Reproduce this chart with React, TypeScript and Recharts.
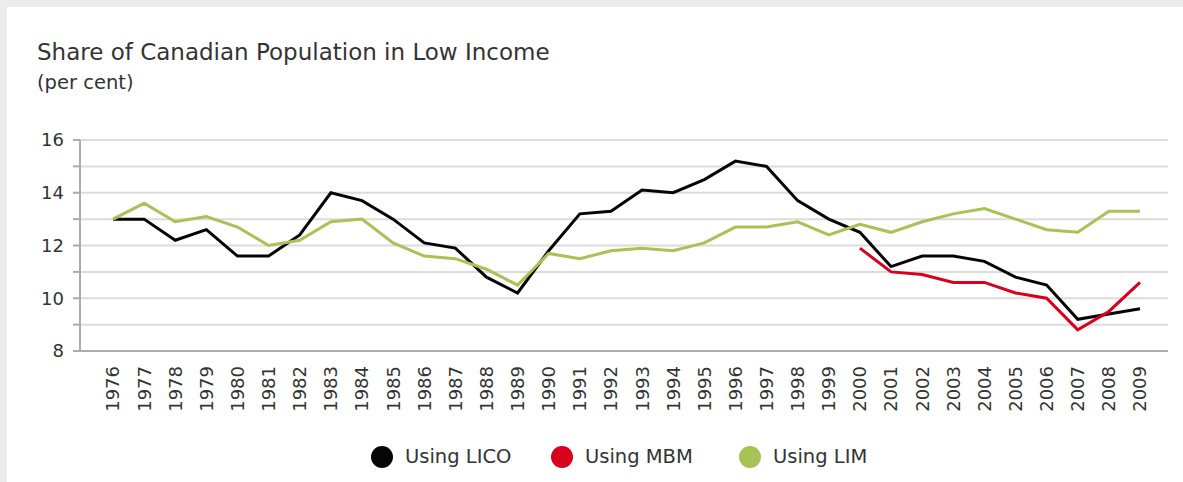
import { LineChart, Line, XAxis, YAxis, CartesianGrid } from 'recharts';

const years = [
  '1976', '1977', '1978', '1979', '1980', '1981', '1982', '1983', '1984', '1985',
  '1986', '1987', '1988', '1989', '1990', '1991', '1992', '1993', '1994', '1995',
  '1996', '1997', '1998', '1999', '2000', '2001', '2002', '2003', '2004', '2005',
  '2006', '2007', '2008', '2009',
];

const lico = [
  13.0, 13.0, 12.2, 12.6, 11.6, 11.6, 12.4, 14.0, 13.7, 13.0,
  12.1, 11.9, 10.8, 10.2, 11.8, 13.2, 13.3, 14.1, 14.0, 14.5,
  15.2, 15.0, 13.7, 13.0, 12.5, 11.2, 11.6, 11.6, 11.4, 10.8,
  10.5, 9.2, 9.4, 9.6,
];

// MBM only starts in 2000
const mbm = [
  null, null, null, null, null, null, null, null, null, null,
  null, null, null, null, null, null, null, null, null, null,
  null, null, null, null, 11.9, 11.0, 10.9, 10.6, 10.6, 10.2,
  10.0, 8.8, 9.5, 10.6,
];

const lim = [
  13.0, 13.6, 12.9, 13.1, 12.7, 12.0, 12.2, 12.9, 13.0, 12.1,
  11.6, 11.5, 11.1, 10.5, 11.7, 11.5, 11.8, 11.9, 11.8, 12.1,
  12.7, 12.7, 12.9, 12.4, 12.8, 12.5, 12.9, 13.2, 13.4, 13.0,
  12.6, 12.5, 13.3, 13.3,
];

const yTicks = [8, 9, 10, 11, 12, 13, 14, 15, 16];

const series = [
  { key: 'lico', name: 'Using LICO', color: '#050505', legendLeft: 364 },
  { key: 'mbm', name: 'Using MBM', color: '#d8001c', legendLeft: 544 },
  { key: 'lim', name: 'Using LIM', color: '#a8c256', legendLeft: 732 },
];

const data = years.map((year, i) => ({
  year,
  lico: lico[i],
  mbm: mbm[i],
  lim: lim[i],
}));

const FONT = '"DejaVu Sans", Verdana, sans-serif';

const YearTick = ({ x, y, payload }: any) => (
  <text
    x={x}
    y={y + 7}
    transform={`rotate(-90, ${x}, ${y + 7})`}
    textAnchor="end"
    dy="0.36em"
    fill="#333"
    fontSize={18}
    fontFamily={FONT}
  >
    {payload?.value}
  </text>
);

export default function App() {
  return (
    <div
      style={{
        position: 'absolute',
        left: 0,
        top: 0,
        width: 1183,
        height: 482,
        background: '#ebebeb',
        fontFamily: FONT,
        overflow: 'hidden',
      }}
    >
      <div
        style={{
          position: 'absolute',
          left: 7,
          top: 7,
          width: 1176,
          height: 475,
          background: '#fff',
        }}
      >
        <div
          style={{
            position: 'absolute',
            left: 30,
            top: 34,
            fontSize: 23,
            lineHeight: '23px',
            color: '#333',
            whiteSpace: 'nowrap',
          }}
        >
          Share of Canadian Population in Low Income
        </div>
        <div
          style={{
            position: 'absolute',
            left: 30,
            top: 66,
            fontSize: 19.5,
            lineHeight: '20px',
            color: '#333',
            whiteSpace: 'nowrap',
          }}
        >
          (per cent)
        </div>

        <LineChart
          width={1176}
          height={475}
          data={data}
          margin={{ top: 133, right: 15, left: 0, bottom: 71 }}
        >
          <CartesianGrid vertical={false} stroke="#dcdcdc" strokeWidth={2} />
          <XAxis
            dataKey="year"
            interval={0}
            height={60}
            padding={{ left: 33, right: 28 }}
            tickLine={false}
            axisLine={{ stroke: '#ababab', strokeWidth: 2 }}
            tick={<YearTick />}
          />
          <YAxis
            width={73}
            domain={[8, 16]}
            ticks={yTicks}
            interval={0}
            tickSize={7}
            tickMargin={9}
            tickFormatter={(v: number) => (v % 2 === 0 ? String(v) : '')}
            tick={{ fill: '#333', fontSize: 18, fontFamily: FONT }}
            tickLine={{ stroke: '#ababab', strokeWidth: 2 }}
            axisLine={{ stroke: '#ababab', strokeWidth: 2 }}
          />
          {series.map((s) => (
            <Line
              key={s.key}
              type="linear"
              dataKey={s.key}
              name={s.name}
              stroke={s.color}
              strokeWidth={3}
              dot={false}
              activeDot={false}
              isAnimationActive={false}
            />
          ))}
        </LineChart>

        {/* legend */}
        {series.map((s) => (
          <div
            key={s.key}
            style={{
              position: 'absolute',
              top: 439,
              left: s.legendLeft,
              height: 22,
              display: 'flex',
              alignItems: 'center',
              whiteSpace: 'nowrap',
            }}
          >
            <span
              style={{
                display: 'inline-block',
                width: 22,
                height: 22,
                borderRadius: '50%',
                background: s.color,
                marginRight: 12,
              }}
            />
            <span style={{ fontSize: 19.5, color: '#333', lineHeight: '22px' }}>{s.name}</span>
          </div>
        ))}
      </div>
    </div>
  );
}
